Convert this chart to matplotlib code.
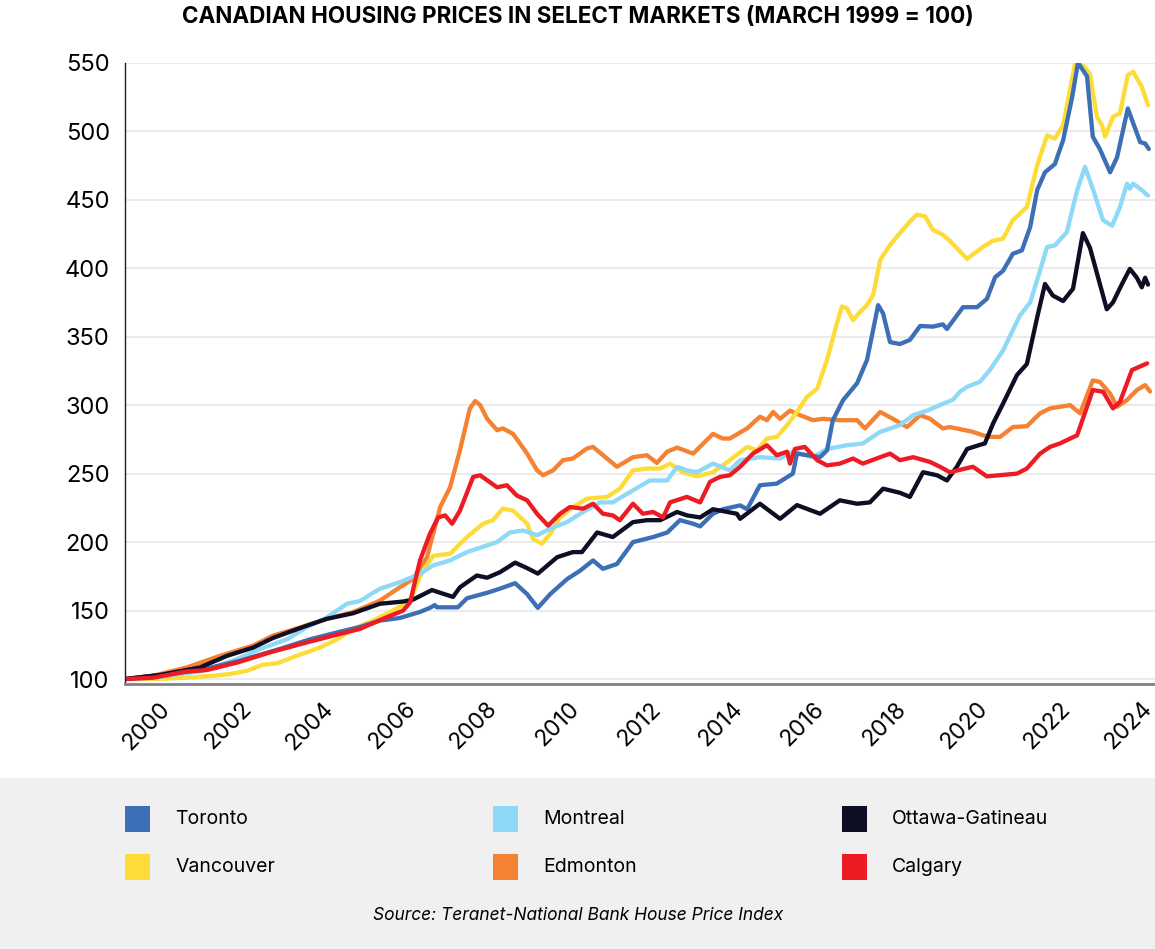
import matplotlib.pyplot as plt
from matplotlib.patches import Rectangle

plt.rcParams['font.family'] = ['Inter', 'DejaVu Sans']

title = "CANADIAN HOUSING PRICES IN SELECT MARKETS (MARCH 1999 = 100)"
source = "Source: Teranet-National Bank House Price Index"

# index values (decimal year, index)
toronto_x = [1999.17, 2000.02, 2000.99, 2001.96, 2002.93, 2003.66, 2004.39, 2004.87, 2005.36, 2005.84,
             2006.33, 2006.57, 2006.69, 2006.74, 2007.25, 2007.47, 2007.96, 2008.27, 2008.64, 2008.93,
             2009.19, 2009.49, 2009.90, 2010.21, 2010.53, 2010.77, 2011.11, 2011.50, 2011.99, 2012.33,
             2012.64, 2012.96, 2013.13, 2013.44, 2013.68, 2014.10, 2014.27, 2014.58, 2014.99, 2015.38,
             2015.48, 2016.04, 2016.21, 2016.35, 2016.60, 2016.94, 2017.18, 2017.45, 2017.57, 2017.74,
             2017.98, 2018.22, 2018.47, 2018.78, 2019.02, 2019.12, 2019.51, 2019.85, 2020.09, 2020.29,
             2020.48, 2020.72, 2020.94, 2021.14, 2021.31, 2021.50, 2021.74, 2021.94, 2022.16, 2022.30,
             2022.52, 2022.66, 2022.83, 2023.08, 2023.25, 2023.51, 2023.81, 2023.93, 2024.02]
toronto_y = [100, 103, 106.5, 113.4, 122, 129, 134.6, 138, 142.7, 144.6,
             149, 152, 154, 152.4, 152.4, 159, 163, 166, 170, 162,
             152, 162, 173, 179, 186.6, 180.5, 184, 200, 203.7, 207,
             216, 213.4, 211.5, 220.7, 224, 226.8, 224, 241.5, 242.7, 250,
             264.6, 262, 267, 289, 303.7, 316, 333, 373, 367, 346,
             344.6, 347.6, 357.8, 357.3, 359, 355.6, 371.5, 371.5, 377.6, 393.4,
             398, 410.5, 413, 430, 457, 470, 476, 493.4, 525, 550,
             540, 496, 487, 470, 481, 516.6, 492, 491, 487]

montreal_x = [1999.17, 1999.85, 2001.06, 2001.89, 2002.45, 2003.10, 2003.59, 2004.07, 2004.56, 2004.87,
              2005.36, 2005.84, 2006.33, 2006.65, 2007.06, 2007.47, 2007.96, 2008.20, 2008.51, 2008.83,
              2009.17, 2009.49, 2009.90, 2010.29, 2010.70, 2011.01, 2011.50, 2011.91, 2012.33, 2012.57,
              2012.81, 2013.05, 2013.44, 2013.85, 2014.10, 2014.58, 2015.07, 2015.38, 2015.87, 2016.21,
              2016.69, 2017.08, 2017.50, 2017.98, 2018.30, 2018.64, 2018.95, 2019.27, 2019.44, 2019.61,
              2019.92, 2020.17, 2020.48, 2020.89, 2021.14, 2021.38, 2021.55, 2021.74, 2022.03, 2022.28,
              2022.47, 2022.66, 2022.91, 2023.13, 2023.32, 2023.49, 2023.56, 2023.64, 2023.81, 2024.00]
montreal_y = [100, 101, 106, 114.6, 122, 129, 138, 145, 155, 157,
              166, 170.7, 176.8, 183, 186.6, 192.7, 197.6, 200, 207, 208.5,
              205, 209.8, 214.6, 222, 229, 229, 237.8, 245, 245, 255,
              252.4, 251, 257.3, 252.4, 259.8, 262, 261, 266, 262, 268,
              270.7, 272, 280.5, 285.4, 292.7, 296, 300, 304, 310, 313.4,
              317, 326, 339.8, 365.4, 375, 398.3, 415.4, 416.6, 426.3, 456.8,
              474, 458, 435, 431, 444.6, 461.7, 458, 461.7, 458, 453]

ottawa_x = [1999.17, 2000.02, 2000.99, 2001.65, 2002.28, 2002.76, 2003.49, 2004.07, 2004.70, 2005.36,
            2005.92, 2006.16, 2006.62, 2006.82, 2007.13, 2007.30, 2007.71, 2007.96, 2008.27, 2008.64,
            2008.93, 2009.19, 2009.66, 2010.04, 2010.26, 2010.63, 2011.01, 2011.50, 2011.84, 2012.16,
            2012.57, 2012.81, 2013.13, 2013.44, 2014.02, 2014.10, 2014.58, 2015.07, 2015.48, 2016.04,
            2016.52, 2016.94, 2017.25, 2017.57, 2017.98, 2018.22, 2018.54, 2018.88, 2019.12, 2019.36,
            2019.61, 2019.92, 2020.04, 2020.24, 2020.48, 2020.82, 2021.06, 2021.31, 2021.50, 2021.69,
            2021.94, 2022.18, 2022.42, 2022.59, 2023.00, 2023.15, 2023.37, 2023.56, 2023.73, 2023.85,
            2023.93, 2024.00]
ottawa_y = [100, 103, 108.5, 117, 123, 130, 138, 144, 148, 155,
            156.6, 158, 165, 163, 160, 167, 175.6, 174, 178, 185,
            181, 177, 189, 192.7, 192.7, 207, 203.7, 214.6, 216, 216,
            222, 219.5, 218, 224, 220.7, 217, 228, 217, 227, 220.7,
            230.5, 228, 229, 239, 236, 233, 251, 248.8, 245, 255,
            268, 271, 272, 286.6, 301, 322, 330, 364, 388.5, 380,
            376, 385, 425.6, 415, 370, 375, 388.5, 399.5, 393, 386,
            393, 388]

vancouver_x = [1999.17, 1999.85, 2000.67, 2001.31, 2001.72, 2002.13, 2002.52, 2002.86, 2003.25, 2003.90,
               2004.32, 2004.70, 2005.19, 2005.67, 2006.09, 2006.33, 2006.65, 2007.06, 2007.47, 2007.86,
               2008.10, 2008.34, 2008.59, 2008.93, 2009.07, 2009.29, 2009.49, 2009.73, 2010.04, 2010.38,
               2010.87, 2011.18, 2011.50, 2011.84, 2012.16, 2012.40, 2012.71, 2013.05, 2013.44, 2013.85,
               2014.27, 2014.51, 2014.75, 2014.99, 2015.24, 2015.48, 2015.72, 2015.97, 2016.21, 2016.45,
               2016.57, 2016.69, 2016.84, 2017.01, 2017.18, 2017.33, 2017.50, 2017.74, 2017.98, 2018.22,
               2018.39, 2018.59, 2018.78, 2019.02, 2019.19, 2019.61, 2019.99, 2020.24, 2020.48, 2020.72,
               2021.06, 2021.31, 2021.55, 2021.74, 2021.94, 2022.23, 2022.42, 2022.59, 2022.76, 2022.88,
               2022.96, 2023.15, 2023.32, 2023.51, 2023.64, 2023.85, 2024.00]
vancouver_y = [100, 100, 101, 102.4, 103.7, 106, 110.5, 111.5, 116, 123,
               129, 136.6, 142.7, 150, 157, 175, 190, 191.5, 203.7, 213.4,
               216, 224.4, 223, 213.4, 202.4, 198.8, 206, 218, 225.6, 231.7,
               233, 239, 252.4, 253.7, 253.7, 257.3, 251, 248, 251, 259.8,
               269.5, 267, 275.6, 276.8, 285.4, 295, 306, 312, 333, 359.8,
               372, 370.7, 362, 368, 373, 380.5, 406, 417, 425.6, 434,
               439, 437.8, 428, 424.4, 420, 406.8, 415.4, 420, 421.5, 435,
               444.6, 475, 497, 494.6, 504.4, 549.5, 548, 542, 510.5, 504.4,
               496, 510.5, 513, 541, 543.4, 532.4, 519]

edmonton_x = [1999.17, 1999.85, 2000.67, 2001.48, 2002.28, 2002.76, 2003.49, 2004.07, 2004.70, 2005.36,
              2005.84, 2006.16, 2006.50, 2006.82, 2007.06, 2007.30, 2007.54, 2007.67, 2007.79, 2007.96,
              2008.20, 2008.34, 2008.59, 2008.93, 2009.17, 2009.32, 2009.56, 2009.80, 2010.04, 2010.38,
              2010.53, 2010.87, 2011.11, 2011.50, 2011.84, 2012.08, 2012.33, 2012.57, 2012.96, 2013.44,
              2013.68, 2013.85, 2014.27, 2014.58, 2014.75, 2014.90, 2015.07, 2015.31, 2015.55, 2015.87,
              2016.11, 2016.52, 2016.94, 2017.13, 2017.50, 2017.81, 2018.15, 2018.47, 2018.71, 2019.02,
              2019.19, 2019.75, 2019.99, 2020.17, 2020.41, 2020.72, 2021.06, 2021.38, 2021.62, 2022.11,
              2022.35, 2022.66, 2022.83, 2023.08, 2023.25, 2023.49, 2023.73, 2023.93, 2024.05]
edmonton_y = [100, 102.4, 108.5, 117, 124.4, 131.7, 138.3, 144, 148.8, 157.3,
              167, 173, 189, 225.6, 240, 267, 297.6, 303, 300, 290,
              281.7, 283, 279, 264.6, 252.4, 248.8, 252.4, 259.8, 261, 268.3,
              269.5, 261, 255, 262, 263.4, 257.8, 266, 269, 264.6, 279,
              275.6, 275.6, 283, 291.5, 289, 295, 290, 296, 292.7, 289,
              290, 289, 289, 283, 295, 290, 284, 292.7, 290, 283,
              284, 280.5, 278, 276.8, 276.8, 284, 284.6, 294, 297.6, 300,
              294, 318, 317, 308.5, 298.8, 303.7, 311, 314.6, 310]

calgary_x = [1999.17, 1999.85, 2000.67, 2001.16, 2001.89, 2002.69, 2003.59, 2004.22, 2004.87, 2005.43,
             2005.92, 2006.09, 2006.33, 2006.57, 2006.77, 2006.94, 2007.11, 2007.30, 2007.62, 2007.79,
             2008.20, 2008.44, 2008.68, 2008.93, 2009.17, 2009.44, 2009.73, 2009.97, 2010.29, 2010.53,
             2010.77, 2011.01, 2011.18, 2011.50, 2011.74, 2011.99, 2012.23, 2012.40, 2012.81, 2013.13,
             2013.37, 2013.61, 2013.85, 2014.10, 2014.41, 2014.75, 2014.99, 2015.24, 2015.31, 2015.43,
             2015.67, 2015.97, 2016.21, 2016.52, 2016.84, 2017.08, 2017.50, 2017.74, 2017.98, 2018.30,
             2018.71, 2018.95, 2019.19, 2019.75, 2020.09, 2020.82, 2021.06, 2021.38, 2021.62, 2021.86,
             2022.28, 2022.52, 2022.66, 2022.91, 2023.15, 2023.32, 2023.61, 2023.98]
calgary_y = [100, 101, 105.6, 106.6, 112, 119.5, 126.8, 131.7, 136.6, 144,
             150, 156, 186.6, 206, 218, 219.5, 213.4, 223, 247.6, 248.8,
             240, 241.5, 234, 230.5, 220.7, 212, 220.7, 225.6, 224.4, 228,
             220.7, 219.5, 216, 228, 220.7, 222, 218, 229, 233, 229,
             244, 247.6, 248.8, 255, 264.6, 270.7, 263.4, 266, 257.3, 268,
             269.5, 259.8, 256, 257.3, 261, 257.3, 262, 264.6, 259.8, 262,
             258.5, 255, 251, 255, 248, 250, 253.7, 264.6, 269.5, 272,
             278, 298.8, 311, 309.8, 297.6, 302.4, 325.6, 330.5]

year_ticks = list(range(2000, 2025, 2))
y_ticks = list(range(100, 551, 50))

series = [
    ("Edmonton", edmonton_x, edmonton_y, "#F58233"),
    ("Vancouver", vancouver_x, vancouver_y, "#FDDC3A"),
    ("Montreal", montreal_x, montreal_y, "#8ED8F8"),
    ("Toronto", toronto_x, toronto_y, "#3D6FB6"),
    ("Ottawa-Gatineau", ottawa_x, ottawa_y, "#0E0E24"),
    ("Calgary", calgary_x, calgary_y, "#ED1C24"),
]
colors = {name: c for name, _, _, c in series}
legend_rows = [["Toronto", "Montreal", "Ottawa-Gatineau"],
               ["Vancouver", "Edmonton", "Calgary"]]

fig = plt.figure(figsize=(11.55, 9.49), dpi=100)
W, H = 1155, 949

# grey legend panel
fig.patches.append(Rectangle((0, 0), 1, (H - 778) / H, transform=fig.transFigure,
                             facecolor="#F0F0F0", edgecolor="none", zorder=0))

ax = fig.add_axes([125 / W, (H - 684) / H, (W - 125) / W, (684 - 62.7) / H])
for name, xs, ys, c in series:
    ax.plot(xs, ys, color=c, lw=3.1, solid_joinstyle="round", solid_capstyle="round")

ax.set_xlim(1999.17, 2024.17)
ax.set_ylim(96.4, 550)
ax.set_yticks(y_ticks)
ax.set_yticklabels([str(v) for v in y_ticks], fontsize=17)
# the source's category axis puts its year labels slightly tighter than the data
ax.set_xticks([1999.17 + (t - 1999.17) * 0.9927 for t in year_ticks])
ax.set_xticklabels([str(v) for v in year_ticks], fontsize=16.5, rotation=45,
                   ha="right", va="top", rotation_mode="anchor")
ax.tick_params(axis="both", length=0)
ax.tick_params(axis="y", pad=11)
ax.tick_params(axis="x", pad=10)
ax.grid(axis="y", color="#E8E8E8", lw=1.2)
ax.set_axisbelow(True)
for s in ["top", "right"]:
    ax.spines[s].set_visible(False)
ax.spines["left"].set_color("#1C1C3A")
ax.spines["left"].set_linewidth(1)
ax.spines["bottom"].set_color("#808085")
ax.spines["bottom"].set_linewidth(2)

fig.text(578 / W, 1 - 17 / H, title, ha="center", va="center", fontsize=16.2, fontweight="bold")

# legend
col_x = [125, 493, 842]
row_y = [819, 867]
for r, row in enumerate(legend_rows):
    for c, name in enumerate(row):
        x0 = col_x[c]
        y0 = row_y[r]
        fig.patches.append(Rectangle((x0 / W, (H - y0 - 13) / H), 25 / W, 26 / H,
                                     transform=fig.transFigure, facecolor=colors[name],
                                     edgecolor="none"))
        fig.text((x0 + 50) / W, (H - y0) / H, name, ha="left", va="center", fontsize=14)

fig.text(578 / W, 1 - 915 / H, source, ha="center", va="center", fontsize=12.5, style="italic")

fig.savefig("out.png", dpi=100)
